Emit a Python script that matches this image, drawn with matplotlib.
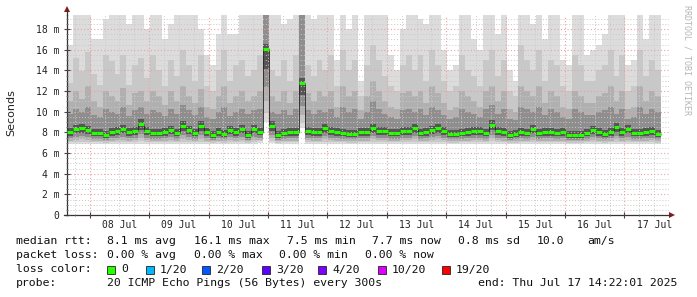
import numpy as np
import matplotlib
matplotlib.use("Agg")
import matplotlib.pyplot as plt
from matplotlib.patches import Rectangle, Polygon
from matplotlib.lines import Line2D

W, H = 697, 297

# time axis: hours relative to 08 Jul 00:00
start_hour = -9.2
step_hours = 2.4

median_ms = [8.0, 8.3, 8.4, 8.2, 7.9, 7.9, 7.7, 8.0, 8.1, 8.3, 8.0, 8.1, 8.8, 8.1, 7.9,
             7.9, 8.0, 8.2, 7.9, 8.6, 8.2, 7.9, 8.6, 8.0, 7.7, 8.0, 7.8, 8.2, 8.0,
             8.3, 7.7, 8.3, 8.0, 16.1, 8.6, 7.7, 7.9, 8.0, 8.0, 12.8, 8.1, 8.0, 8.0,
             8.4, 8.1, 8.0, 7.9, 7.8, 7.8, 8.0, 8.0, 8.4, 8.1, 8.1, 7.9, 7.9, 8.1, 8.1,
             8.4, 7.9, 8.0, 8.2, 8.4, 8.1, 7.8, 7.8, 7.9, 8.0, 8.1, 8.1, 7.9, 8.7,
             8.1, 8.0, 7.7, 7.8, 8.0, 7.9, 8.3, 7.9, 8.0, 8.0, 7.9, 8.0, 7.7, 7.7,
             7.7, 7.9, 8.2, 8.0, 7.8, 8.0, 8.5, 8.0, 8.3, 7.9, 7.9, 8.0, 8.1, 7.8]

smoke_max = [16.5, 19.4, 19.4, 19.4, 17.0, 17.0, 19.0, 19.4, 19.4, 19.4, 18.5, 19.4, 19.4, 18.0, 19.4,
             19.4, 17.0, 18.5, 19.4, 19.4, 19.4, 19.4, 18.0, 15.5, 14.5, 17.5, 19.4, 17.5, 17.5,
             19.4, 19.4, 19.4, 19.4, 19.4, 19.4, 19.4, 18.5, 19.0, 19.4, 19.4, 19.4, 19.0, 19.4,
             19.4, 19.4, 15.0, 19.4, 18.0, 19.4, 13.0, 19.4, 19.4, 19.4, 19.4, 15.5, 14.0, 18.0, 19.4,
             19.4, 19.0, 18.5, 19.4, 19.4, 16.0, 14.0, 14.5, 19.4, 19.4, 17.0, 16.0, 19.4, 19.4,
             17.5, 19.4, 14.0, 13.0, 19.4, 19.4, 18.5, 19.4, 17.0, 19.4, 19.4, 15.0, 14.5, 19.4,
             19.4, 15.5, 16.0, 16.5, 17.5, 19.4, 19.4, 19.4, 14.5, 15.0, 19.4, 17.0, 19.4, 19.4]

smoke_p2 = [12.8, 15.2, 13.9, 15.8, 13.6, 12.6, 15.5, 14.9, 13.6, 15.5, 12.6, 14.5, 15.2, 13.3, 15.5,
            14.0, 12.5, 15.0, 13.5, 16.0, 14.5, 13.0, 15.5, 12.5, 12.0, 14.0, 16.0, 13.0, 14.5,
            15.0, 13.5, 14.0, 15.5, 19.4, 14.0, 13.5, 15.0, 13.0, 15.5, 19.4, 14.5, 13.5, 15.0,
            14.0, 15.5, 12.5, 16.0, 14.0, 15.0, 11.5, 14.5, 16.5, 15.0, 13.5, 12.5, 12.0, 14.5, 15.5,
            14.0, 15.5, 13.0, 16.0, 14.5, 13.0, 12.0, 12.5, 15.5, 14.0, 13.5, 12.5, 15.0, 16.0,
            13.5, 15.0, 12.0, 11.5, 16.5, 15.0, 14.0, 16.0, 13.0, 15.0, 14.5, 12.5, 12.0, 15.5,
            14.5, 13.0, 13.0, 14.0, 14.5, 16.0, 13.5, 15.5, 12.0, 12.5, 16.0, 13.5, 15.0, 14.0]

smoke_p3 = [11.0, 12.0, 11.2, 12.5, 11.0, 10.5, 12.0, 11.5, 11.0, 12.3, 10.6, 11.8, 12.0, 11.0, 12.0,
            11.5, 10.6, 12.0, 11.0, 12.5, 11.5, 10.8, 12.2, 10.5, 10.3, 11.5, 12.5, 10.8, 11.5,
            12.0, 11.0, 11.5, 12.0, 19.4, 11.5, 11.0, 12.0, 10.8, 12.0, 19.4, 11.8, 11.0, 12.0,
            11.5, 12.0, 10.5, 12.5, 11.5, 12.0, 10.2, 11.5, 13.0, 12.0, 11.0, 10.5, 10.3, 11.8, 12.0,
            11.5, 12.0, 10.8, 12.5, 11.8, 10.8, 10.2, 10.5, 12.0, 11.5, 11.0, 10.5, 12.0, 12.5,
            11.0, 12.0, 10.3, 10.0, 12.5, 12.0, 11.5, 12.5, 10.8, 12.0, 11.5, 10.5, 10.3, 12.0,
            11.5, 10.8, 10.8, 11.5, 11.8, 12.5, 11.0, 12.0, 10.3, 10.5, 12.5, 11.0, 12.0, 11.5]

smoke_p4 = [9.8, 10.3, 10.0, 10.5, 9.7, 9.5, 10.3, 10.0, 9.8, 10.5, 9.6, 10.2, 10.5, 9.8, 10.2,
            10.0, 9.6, 10.3, 9.8, 10.6, 10.2, 9.7, 10.5, 9.5, 9.3, 10.0, 10.5, 9.6, 10.0,
            10.3, 9.8, 10.2, 10.3, 19.4, 10.0, 9.8, 10.2, 9.7, 10.3, 19.4, 10.2, 9.8, 10.2,
            10.0, 10.3, 9.5, 10.5, 10.0, 10.3, 9.3, 10.0, 11.0, 10.3, 9.8, 9.5, 9.3, 10.2, 10.3,
            10.0, 10.3, 9.7, 10.5, 10.2, 9.7, 9.3, 9.5, 10.3, 10.0, 9.8, 9.5, 10.3, 10.6,
            9.8, 10.3, 9.3, 9.2, 10.5, 10.3, 10.0, 10.5, 9.7, 10.3, 10.0, 9.5, 9.3, 10.3,
            10.0, 9.7, 9.7, 10.0, 10.2, 10.5, 9.8, 10.3, 9.3, 9.5, 10.5, 9.8, 10.3, 10.0]

smoke_min = [6.9, 6.9, 6.9, 6.9, 6.9, 6.9, 6.9, 6.9, 6.9, 6.9, 6.9, 6.9, 6.9, 6.9, 6.9,
             6.9, 6.9, 6.9, 6.9, 6.9, 6.9, 6.9, 6.9, 6.9, 6.9, 6.9, 6.9, 6.9, 6.9,
             6.9, 6.9, 6.9, 7.0, 9.0, 7.0, 6.9, 6.9, 6.9, 6.9, 8.4, 6.9, 6.9, 6.9,
             6.9, 6.9, 6.9, 6.9, 6.9, 6.9, 6.9, 6.9, 6.9, 6.9, 6.9, 6.9, 6.9, 6.9, 6.9,
             6.9, 6.9, 6.9, 6.9, 6.9, 6.9, 6.9, 6.9, 6.9, 6.9, 6.9, 6.9, 6.9, 6.9,
             6.9, 6.9, 6.9, 6.9, 6.9, 6.9, 6.9, 6.9, 6.9, 6.9, 6.9, 6.9, 6.9, 6.9,
             6.9, 6.9, 6.9, 6.9, 6.9, 6.9, 6.9, 6.9, 6.9, 6.9, 6.9, 6.9, 6.9, 6.9]

day_labels = ["08 Jul", "09 Jul", "10 Jul", "11 Jul", "12 Jul",
              "13 Jul", "14 Jul", "15 Jul", "16 Jul", "17 Jul"]
ytick_values = [0, 2, 4, 6, 8, 10, 12, 14, 16, 18]
ytick_labels = ["0", "2 m", "4 m", "6 m", "8 m", "10 m", "12 m", "14 m", "16 m", "18 m"]

loss_colors = ["#26ff00", "#00b8ff", "#0059ff", "#5e00ff", "#7e00ff", "#dd00ff", "#ff0000"]
loss_labels = ["0", "1/20", "2/20", "3/20", "4/20", "10/20", "19/20"]

row_rtt = [("median rtt:", 16), ("8.1 ms avg", 107), ("16.1 ms max", 194), ("7.5 ms min", 287),
           ("7.7 ms now", 372), ("0.8 ms sd", 458), ("10.0", 537), ("am/s", 587)]
row_loss = [("packet loss:", 16), ("0.00 % avg", 107), ("0.00 % max", 194),
            ("0.00 % min", 279), ("0.00 % now", 365)]
row_probe = [("probe:", 16), ("20 ICMP Echo Pings (56 Bytes) every 300s", 107),
             ("end: Thu Jul 17 14:22:01 2025", 478)]
loss_box_x = [107, 146, 202, 262, 318, 378, 442]

# ---------------------------------------------------------------
med = np.array(median_ms)
mx = np.array(smoke_max)
p2 = np.array(smoke_p2)
p3 = np.array(smoke_p3)
p4 = np.array(smoke_p4)
mn = np.array(smoke_min)
n = len(med)
left_edges = start_hour + step_hours * np.arange(n)
right_edges = left_edges + step_hours

fig = plt.figure(figsize=(W / 100, H / 100), dpi=100)
fig.patch.set_facecolor("white")

def fx(x):
    return x / W

def fy(y):
    return 1 - y / H

ax_left, ax_right, ax_top, ax_bot = 67, 669, 15, 215
ax = fig.add_axes([fx(ax_left), fy(ax_bot), (ax_right - ax_left) / W, (ax_bot - ax_top) / H])
ax.set_facecolor("white")
ax.set_xlim(start_hour, start_hour + (ax_right - ax_left) / 60 * 24)
px_per_ms = 10.333
ax.set_ylim(0, (ax_bot - ax_top) / px_per_ms)

bands = [
    (mn, mx, "#dcdcdc"),
    (mn + 0.12 * (med - mn), p2, "#c8c8c8"),
    (mn + 0.28 * (med - mn), p3, "#b0b0b0"),
    (mn + 0.48 * (med - mn), p4, "#8e8e8e"),
    (mn + 0.72 * (med - mn), med + 0.45, "#555555"),
]
for lo, hi, col in bands:
    ax.bar(left_edges, hi - lo, bottom=lo, width=step_hours, align="edge",
           color=col, linewidth=0, antialiased=False, zorder=1)

# median line
ax.stairs(med, np.append(left_edges, right_edges[-1]), baseline=None,
          color="#222222", lw=0.6, zorder=3)
ax.hlines(med, left_edges, right_edges, color=loss_colors[0], lw=2.2, zorder=4)

# grid
ax.set_yticks(ytick_values)
ax.set_yticklabels(ytick_labels)
ax.set_yticks(np.arange(0, 19.5, 0.5), minor=True)
ax.set_xticks(np.arange(0, 24 * 10, 24))
ax.set_xticks(np.arange(-6, 24 * 10, 6), minor=True)
ax.set_xticklabels([])
ax.set_axisbelow(False)
ax.grid(which="minor", color="#c9c9c9", linestyle=(0, (1, 2)), lw=0.7)
ax.grid(which="major", color="#eaa2a2", linestyle=(0, (1, 2)), lw=0.8)

mono = "DejaVu Sans Mono"
ax.tick_params(axis="both", which="major", direction="inout", length=4, width=0.8,
               color="#444444", labelsize=7, pad=3.5)
ax.tick_params(axis="both", which="minor", direction="inout", length=2, width=0.6,
               color="#666666")
for lab in ax.get_yticklabels():
    lab.set_fontfamily(mono)
    lab.set_color("#222222")

for k, lab in enumerate(day_labels):
    ax.text(12 + 24 * k, -0.05, lab, transform=ax.get_xaxis_transform(),
            ha="center", va="center", fontsize=7, family=mono, color="#222222")

for s in ["top", "right"]:
    ax.spines[s].set_visible(False)
ax.spines["left"].set_color("#333333")
ax.spines["bottom"].set_color("#333333")
ax.spines["left"].set_linewidth(0.9)
ax.spines["bottom"].set_linewidth(0.9)

# axis extensions + arrows
fig.add_artist(Line2D([fx(67), fx(67)], [fy(15), fy(10)], color="#333333", lw=0.9))
fig.add_artist(Line2D([fx(64), fx(67)], [fy(215), fy(215)], color="#333333", lw=0.9))
fig.add_artist(Line2D([fx(669), fx(670)], [fy(215), fy(215)], color="#333333", lw=0.9))
fig.add_artist(Polygon([[fx(64), fy(12)], [fx(70), fy(12)], [fx(67), fy(6)]],
                       closed=True, color="#8b1a1a", lw=0))
fig.add_artist(Polygon([[fx(669), fy(212)], [fx(669), fy(218)], [fx(675), fy(215)]],
                       closed=True, color="#8b1a1a", lw=0))

fig.text(fx(11), fy(113), "Seconds", rotation=90, ha="center", va="center",
         fontsize=8, family="DejaVu Sans", color="#222222")
fig.text(fx(687), fy(60), "RRDTOOL / TOBI OETIKER", rotation=270, ha="center", va="center",
         fontsize=6, family=mono, color="#b5b5b5")

fs = 8.25
for row, yy in [(row_rtt, 241), (row_loss, 255.5), (row_probe, 283.5)]:
    for txt, x in row:
        fig.text(fx(x), fy(yy), txt, ha="left", va="center", fontsize=fs, family=mono,
                 color="#111111")

fig.text(fx(16), fy(269.5), "loss color:", ha="left", va="center", fontsize=fs, family=mono,
         color="#111111")
for col, lab, x in zip(loss_colors, loss_labels, loss_box_x):
    fig.add_artist(Rectangle((fx(x), fy(273.5)), 8 / W, 8 / H, transform=fig.transFigure,
                             facecolor=col, edgecolor="#222222", lw=0.6))
    fig.text(fx(x + 14), fy(269.5), lab, ha="left", va="center", fontsize=fs, family=mono,
             color="#111111")

fig.savefig("out.png", dpi=100, facecolor="white")
